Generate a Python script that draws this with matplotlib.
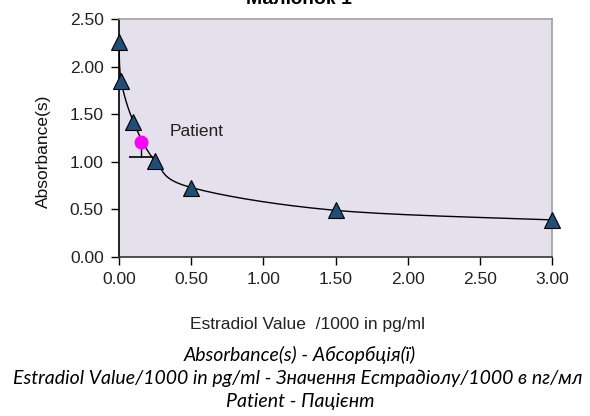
import numpy as np
import matplotlib
matplotlib.use("Agg")
import matplotlib.pyplot as plt

conc = [0.0, 0.015, 0.1, 0.25, 0.5, 1.5, 3.0]
absorb = [2.26, 1.85, 1.42, 1.01, 0.73, 0.49, 0.39]
patient_x = [0.15]
patient_y = [1.21]
patient_low = [1.05]
xticks = [0.0, 0.5, 1.0, 1.5, 2.0, 2.5, 3.0]
yticks = [0.0, 0.5, 1.0, 1.5, 2.0, 2.5]


def catmull(xs, ys, n=30):
    xs = np.asarray(xs, float); ys = np.asarray(ys, float)
    px = np.concatenate([[xs[0]], xs, [xs[-1]]])
    py = np.concatenate([[ys[0]], ys, [ys[-1]]])
    ox, oy = [], []
    t = np.linspace(0, 1, n)
    for i in range(1, len(px) - 2):
        p0, p1, p2, p3 = [np.array([px[j], py[j]]) for j in range(i - 1, i + 3)]
        c1 = p1 + (p2 - p0) / 6
        c2 = p2 - (p3 - p1) / 6
        pts = ((1 - t) ** 3)[:, None] * p1 + (3 * (1 - t) ** 2 * t)[:, None] * c1 + \
              (3 * (1 - t) * t ** 2)[:, None] * c2 + (t ** 3)[:, None] * p2
        ox.extend(pts[:, 0]); oy.extend(pts[:, 1])
    return ox, oy


fig = plt.figure(figsize=(5.9, 4.16), dpi=100)
ax = fig.add_axes([119 / 590, 1 - 257 / 416, (552 - 119) / 590, (257 - 19) / 416])
ax.set_facecolor("#E4E0EC")

cx, cy = catmull(conc, absorb)
ax.plot(cx, cy, color="black", lw=1.0, zorder=2)
ax.plot(conc, absorb, ls="none", marker="^", ms=12, mfc="#1F4E79",
        mec="black", mew=0.8, zorder=4, clip_on=False)

ax.vlines(patient_x, patient_low, patient_y, color="black", lw=1, zorder=3)
ax.plot(patient_x, patient_low, ls="none", marker="_", ms=17, mew=1.2,
        color="black", zorder=3)
ax.plot(patient_x, patient_y, ls="none", marker="o", ms=9, color="#FF00FF",
        zorder=3)
ax.text(0.35, 1.32, "Patient", fontsize=12.5, family="Liberation Sans",
        color="#222222", va="center")

ax.set_xlim(0, 3.0)
ax.set_ylim(0, 2.5)
ax.set_xticks(xticks)
ax.set_yticks(yticks)
ax.set_xticklabels([f"{v:.2f}" for v in xticks], family="Liberation Sans",
                   fontsize=12.5)
ax.set_yticklabels([f"{v:.2f}" for v in yticks], family="Liberation Sans",
                   fontsize=12.5)
ax.tick_params(direction="out", length=6, width=1, colors="black", pad=5)
for lab in ax.get_xticklabels() + ax.get_yticklabels():
    lab.set_color("#222222")
ax.spines["left"].set_color("black")
ax.spines["bottom"].set_color("#333333")
ax.spines["top"].set_color("#A0A0A0")
ax.spines["right"].set_color("#A0A0A0")
for s in ax.spines.values():
    s.set_linewidth(1.2)

fig.text(43 / 590, 1 - 151 / 416, "Absorbance(s)", rotation=90, ha="center",
         va="center", family="Liberation Sans", fontsize=12.5, color="#111111")
fig.text(307 / 590, 1 - 325 / 416, "Estradiol Value  /1000 in pg/ml",
         ha="center", va="center", family="Liberation Sans", fontsize=12.5,
         color="#222222")

fig.text(299 / 590, 1 - 4.5 / 416, "Малюнок 1", ha="center", va="baseline",
         family="Liberation Sans", fontsize=14, weight="bold")

cap = dict(ha="center", va="center", family="Lato", style="italic",
           fontsize=14, color="black")
fig.text(300 / 590, 1 - 355 / 416, "Absorbance(s) - Абсорбція(ї)", **cap)
fig.text(298 / 590, 1 - 378 / 416,
         "Estradiol Value/1000 in pg/ml - Значення Естрадіолу/1000 в пг/мл", **cap)
fig.text(300 / 590, 1 - 401 / 416, "Patient - Пацієнт", **cap)

fig.savefig("out.png", dpi=100)
